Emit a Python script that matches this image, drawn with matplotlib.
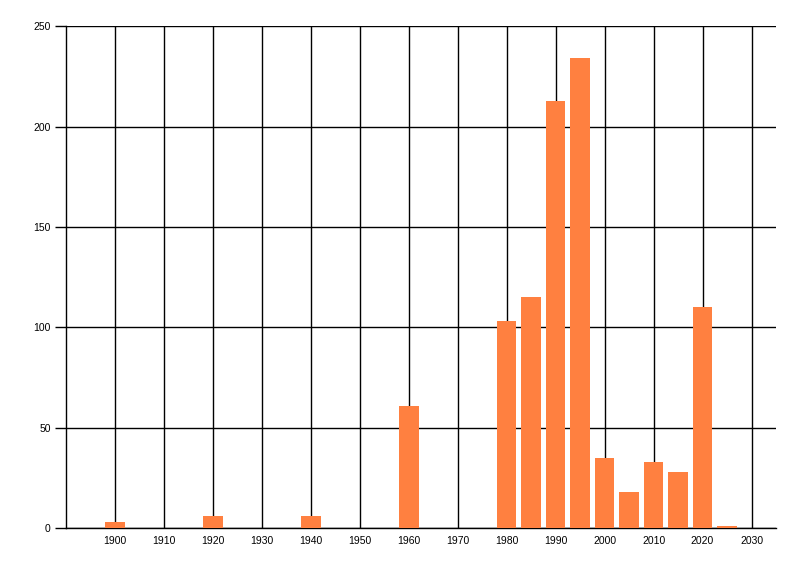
import matplotlib
matplotlib.use("Agg")
import matplotlib.pyplot as plt

# year buckets and counts
years = [1900, 1920, 1940, 1960, 1980, 1985, 1990, 1995, 2000, 2005, 2010, 2015, 2020, 2025]
counts = [3, 6, 6, 61, 103, 115, 213, 234, 35, 18, 33, 28, 110, 1]
xticks = list(range(1900, 2031, 10))
yticks = [0, 50, 100, 150, 200, 250]

plt.rcParams['font.family'] = ['Liberation Sans', 'DejaVu Sans']

fig = plt.figure(figsize=(8, 5.76), dpi=100)
ax = fig.add_axes([0.0825, 0.0833, 0.8875, 0.8710])

ax.bar(years, counts, width=4, color='#FF8040', zorder=3)

ax.set_xlim(1890, 2035)
ax.set_ylim(0, 250)
ax.set_xticks(xticks)
ax.set_yticks(yticks)
ax.tick_params(labelsize=7.5, length=8, width=1, color='black', direction='out', pad=3)
ax.tick_params(axis='x', length=0, pad=6)

ax.grid(True, color='black', linewidth=1, zorder=1)
for side in ['top', 'right']:
    ax.spines[side].set_visible(False)
for side in ['left', 'bottom']:
    ax.spines[side].set_linewidth(1)

fig.savefig('out.png', dpi=100)
